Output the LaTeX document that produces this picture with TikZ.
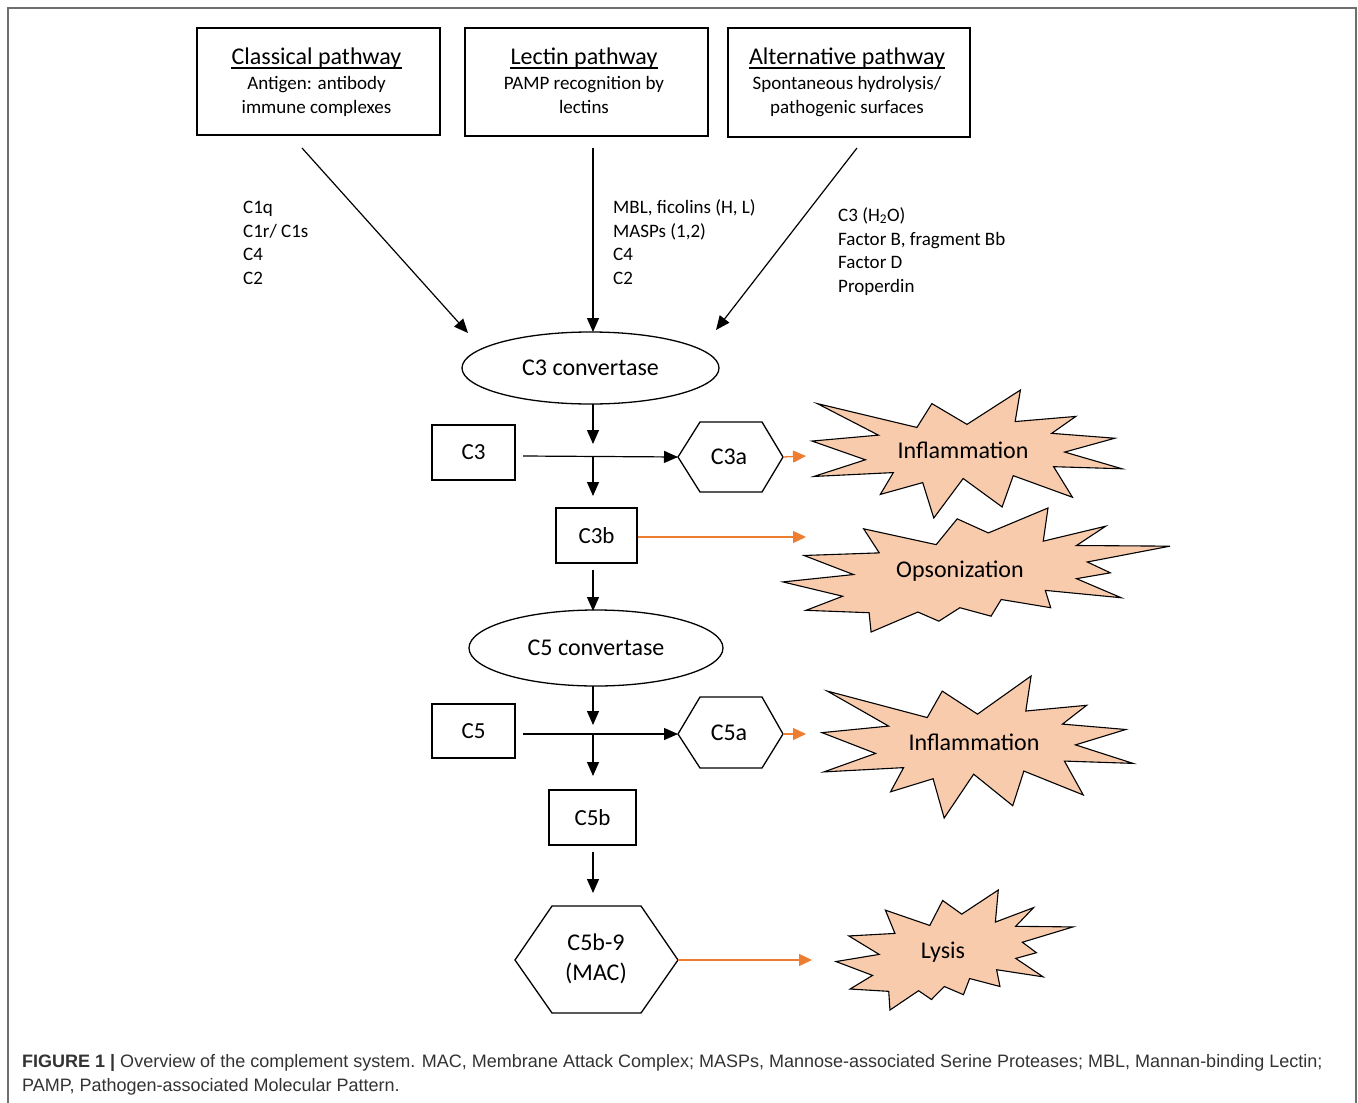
\documentclass[tikz,border=0pt]{standalone}
\usepackage{fontspec}
\setmainfont{Carlito}
\newfontfamily\capfont{Liberation Sans}
\usetikzlibrary{arrows.meta,shapes.geometric}
\definecolor{orng}{HTML}{ED7D31}
\definecolor{starfill}{HTML}{F8CBAD}
\definecolor{framegray}{HTML}{6E6E6E}
\definecolor{captext}{HTML}{333333}
\tikzset{
  rectbox/.style={draw=black, line width=1.3pt, rectangle, inner sep=0pt, font=\fontsize{23}{28}\selectfont},
  ellbox/.style={draw=black, line width=1.3pt, ellipse, inner sep=0pt, font=\fontsize{24}{29}\selectfont},
  shapeline/.style={draw=black, line width=1.3pt},
  startype/.style={draw=black, line width=1.1pt, fill=starfill, line join=miter},
  ttl/.style={inner sep=0pt, anchor=base, font=\fontsize{24}{29}\selectfont},
  body/.style={inner sep=0pt, anchor=base, font=\fontsize{19}{23}\selectfont},
  lbl/.style={inner sep=0pt, anchor=base west, font=\fontsize{19}{23}\selectfont},
  t24/.style={inner sep=0pt, font=\fontsize{24}{29}\selectfont},
  blk/.style={line width=1.2pt, -{Triangle[length=14pt,width=12pt]}},
  plain/.style={line width=1.2pt},
  orarrow/.style={draw=orng, line width=1.3pt, -{Triangle[length=13pt,width=12pt]}, color=orng},
}
\newcommand\sealOne[4]{%
  \draw[startype, shift={(#1,#2)}, xscale=#3/216, yscale=#4/216]
  (108,58) -- (145.22,0) -- (141.55,53.25) -- (183.80,44.57) -- (167.02,73.15) -- (210.97,81.37) -- (176.07,104.75) -- (216,132.90) -- (168.37,129.42) -- (181.45,180.95) -- (140.20,144.57) -- (132.47,197.37) -- (105.32,149.35) -- (84.85,216) -- (77.15,156.27) -- (47.62,176.17) -- (56.67,139.37) -- (1.35,145.87) -- (37.22,117.75) -- (0,86.15) -- (46.27,76.17) -- (3.70,22.95) -- (73.12,63.20) -- (83.52,22.95) -- cycle;}
\newcommand\sealTwo[4]{%
  \draw[startype, shift={(#1,#2)}, xscale=#3/216, yscale=#4/216]
  (114.62,43.42) -- (147.90,0) -- (145.25,57.77) -- (180.07,31.72) -- (163.80,65.32) -- (216,66.45) -- (169.85,94.02) -- (182.70,112.90) -- (163.80,123.10) -- (188.77,156.32) -- (146.40,143.50) -- (149.42,173.70) -- (121.80,159.35) -- (116.12,188.42) -- (98.72,173.70) -- (87,197.12) -- (75.27,181.25) -- (49.17,216) -- (48.05,182.40) -- (12.85,178.25) -- (33.30,153.70) -- (0,128.77) -- (39.35,115.92) -- (11.72,82.70) -- (53.72,78.17) -- (45.02,36.25) -- (85.50,63.82) -- (97.22,18.87) -- cycle;}
\begin{document}
\begin{tikzpicture}[x=1pt, y=-1pt]
\useasboundingbox (0,0) rectangle (1358,1103);
\fill[white] (0,0) rectangle (1358,1103);
% frame
\draw[framegray, line width=2pt] (8,1110) -- (8,8) -- (1356,8) -- (1356,1110);

% top boxes
\node[rectbox, minimum width=243pt, minimum height=107pt] (cls) at (318.5,81.5) {};
\node[rectbox, minimum width=243pt, minimum height=108pt] (lec) at (586.5,82) {};
\node[rectbox, minimum width=242pt, minimum height=109pt] (alt) at (849,82.5) {};

\node[ttl] (clsT) at (316.5,64) {Classical pathway};
\node[body] (clsA) at (316.5,89) {Antigen: antibody};
\node[body] (clsB) at (316.5,113) {immune complexes};
\node[ttl] (lecT) at (584,64) {Lectin pathway};
\node[body] (lecA) at (584,89) {PAMP recognition by};
\node[body] (lecB) at (584,113) {lectins};
\node[ttl] (altT) at (847,64) {Alternative pathway};
\node[body] (altA) at (847,89) {Spontaneous hydrolysis/};
\node[body] (altB) at (847,113) {pathogenic surfaces};
\foreach \n in {clsT,lecT,altT}
  \draw[line width=1.2pt] ([yshift=-4pt]\n.base west) -- ([yshift=-4pt]\n.base east);

% labels
\node[lbl] (l1) at (243,213) {C1q};
\node[lbl] (l2) at (243,237) {C1r/ C1s};
\node[lbl] (l3) at (243,260) {C4};
\node[lbl] (l4) at (243,284) {C2};
\node[lbl] (m1) at (613,213) {MBL, ficolins (H, L)};
\node[lbl] (m2) at (613,237) {MASPs (1,2)};
\node[lbl] (m3) at (613,260) {C4};
\node[lbl] (m4) at (613,284) {C2};
\node[lbl] (r1) at (838,221) {C3 (H\textsubscript{2}O)};
\node[lbl] (r2) at (838,245) {Factor B, fragment Bb};
\node[lbl] (r3) at (838,268) {Factor D};
\node[lbl] (r4) at (838,292) {Properdin};

% C3 convertase
\node[ellbox, minimum width=257pt, minimum height=72pt] (c3conv) at (590.5,368) {C3 convertase};
\coordinate (clsS) at (302,148);
\coordinate (lecS) at (593,148);
\coordinate (altS) at (857,148);
\coordinate (clsE) at (468,333);
\coordinate (lecE) at (593,332);
\coordinate (altE) at (716,330);
\draw[blk] (clsS) -- (clsE);
\draw[blk] (lecS) -- (lecE);
\draw[blk] (altS) -- (altE);

% C3 cleavage
\node[rectbox, minimum width=83pt, minimum height=55pt] (c3) at (473.5,452.5) {C3};
\coordinate (c3aL) at (678,457);
\coordinate (c3aR) at (783,457);
\draw[shapeline] (c3aL) -- (700,422) -- (762,422) -- (c3aR) -- (762,492) -- (700,492) -- cycle;
\node[t24] (c3a) at (729,457) {C3a};
\coordinate (v1s) at (593,404);
\coordinate (v1e) at (593,444);
\coordinate (h1s) at (523,456);
\coordinate (j1) at (593,456);
\coordinate (v2e) at (593,496);
\draw[blk] (v1s) -- (v1e);
\draw[blk] (h1s) -- (c3aL);
\draw[blk] (j1) -- (v2e);
\node[rectbox, minimum width=81pt, minimum height=55pt] (c3b) at (596.5,535.5) {C3b};

% C5 convertase
\node[ellbox, minimum width=254pt, minimum height=76pt] (c5conv) at (596,648) {C5 convertase};
\coordinate (v3s) at (593,570);
\coordinate (v3e) at (593,611);
\draw[blk] (v3s) -- (v3e);

% C5 cleavage
\node[rectbox, minimum width=83pt, minimum height=54pt] (c5) at (473.5,731) {C5};
\coordinate (c5aL) at (678,734);
\coordinate (c5aR) at (783,734);
\draw[shapeline] (c5aL) -- (700,697) -- (762,697) -- (c5aR) -- (762,768) -- (700,768) -- cycle;
\node[t24] (c5a) at (729,733) {C5a};
\coordinate (v4s) at (593,686);
\coordinate (v4e) at (593,725);
\coordinate (h2s) at (523,734);
\coordinate (j2) at (593,734);
\coordinate (v5e) at (593,776);
\draw[blk] (v4s) -- (v4e);
\draw[blk] (h2s) -- (c5aL);
\draw[blk] (j2) -- (v5e);
\node[rectbox, minimum width=87pt, minimum height=55pt] (c5b) at (592.5,817.5) {C5b};
\coordinate (v6s) at (593,852);
\coordinate (v6e) at (593,893);
\draw[blk] (v6s) -- (v6e);

% MAC
\coordinate (macL) at (515,960);
\coordinate (macR) at (678,960);
\draw[shapeline] (macL) -- (552,906) -- (641,906) -- (macR) -- (641,1013) -- (552,1013) -- cycle;
\node[t24, align=center, font=\fontsize{24}{30}\selectfont] (mac) at (596,959) {C5b-9\\(MAC)};

% starbursts
\sealOne{812}{390}{310}{128}
\node[t24] (infA) at (963,450) {Inflammation};
\sealTwo{783}{508}{387}{124}
\node[t24] (ops) at (960,571) {Opsonization};
\sealOne{822}{676}{311}{142}
\node[t24] (infB) at (974,742) {Inflammation};
\sealTwo{836}{890}{237}{120}
\node[t24] (lys) at (943,952) {Lysis};

% orange arrows
\coordinate (o1e) at (806,456);
\coordinate (o2s) at (638,537);
\coordinate (o2e) at (806,537);
\coordinate (o3e) at (806,734);
\coordinate (o4e) at (812,960);
\draw[orarrow] (c3aR) -- (o1e);
\draw[orarrow] (o2s) -- (o2e);
\draw[orarrow] (c5aR) -- (o3e);
\draw[orarrow] (macR) -- (o4e);

% caption
\node[inner sep=0pt, anchor=base west, text=captext, font=\capfont\fontsize{18}{24}\selectfont] (cap1) at (22,1067)
  {\textbf{FIGURE 1 |} Overview of the complement system. MAC, Membrane Attack Complex; MASPs, Mannose-associated Serine Proteases; MBL, Mannan-binding Lectin;};
\node[inner sep=0pt, anchor=base west, text=captext, font=\capfont\fontsize{18}{24}\selectfont] (cap2) at (22,1091)
  {PAMP, Pathogen-associated Molecular Pattern.};
\end{tikzpicture}
\end{document}
